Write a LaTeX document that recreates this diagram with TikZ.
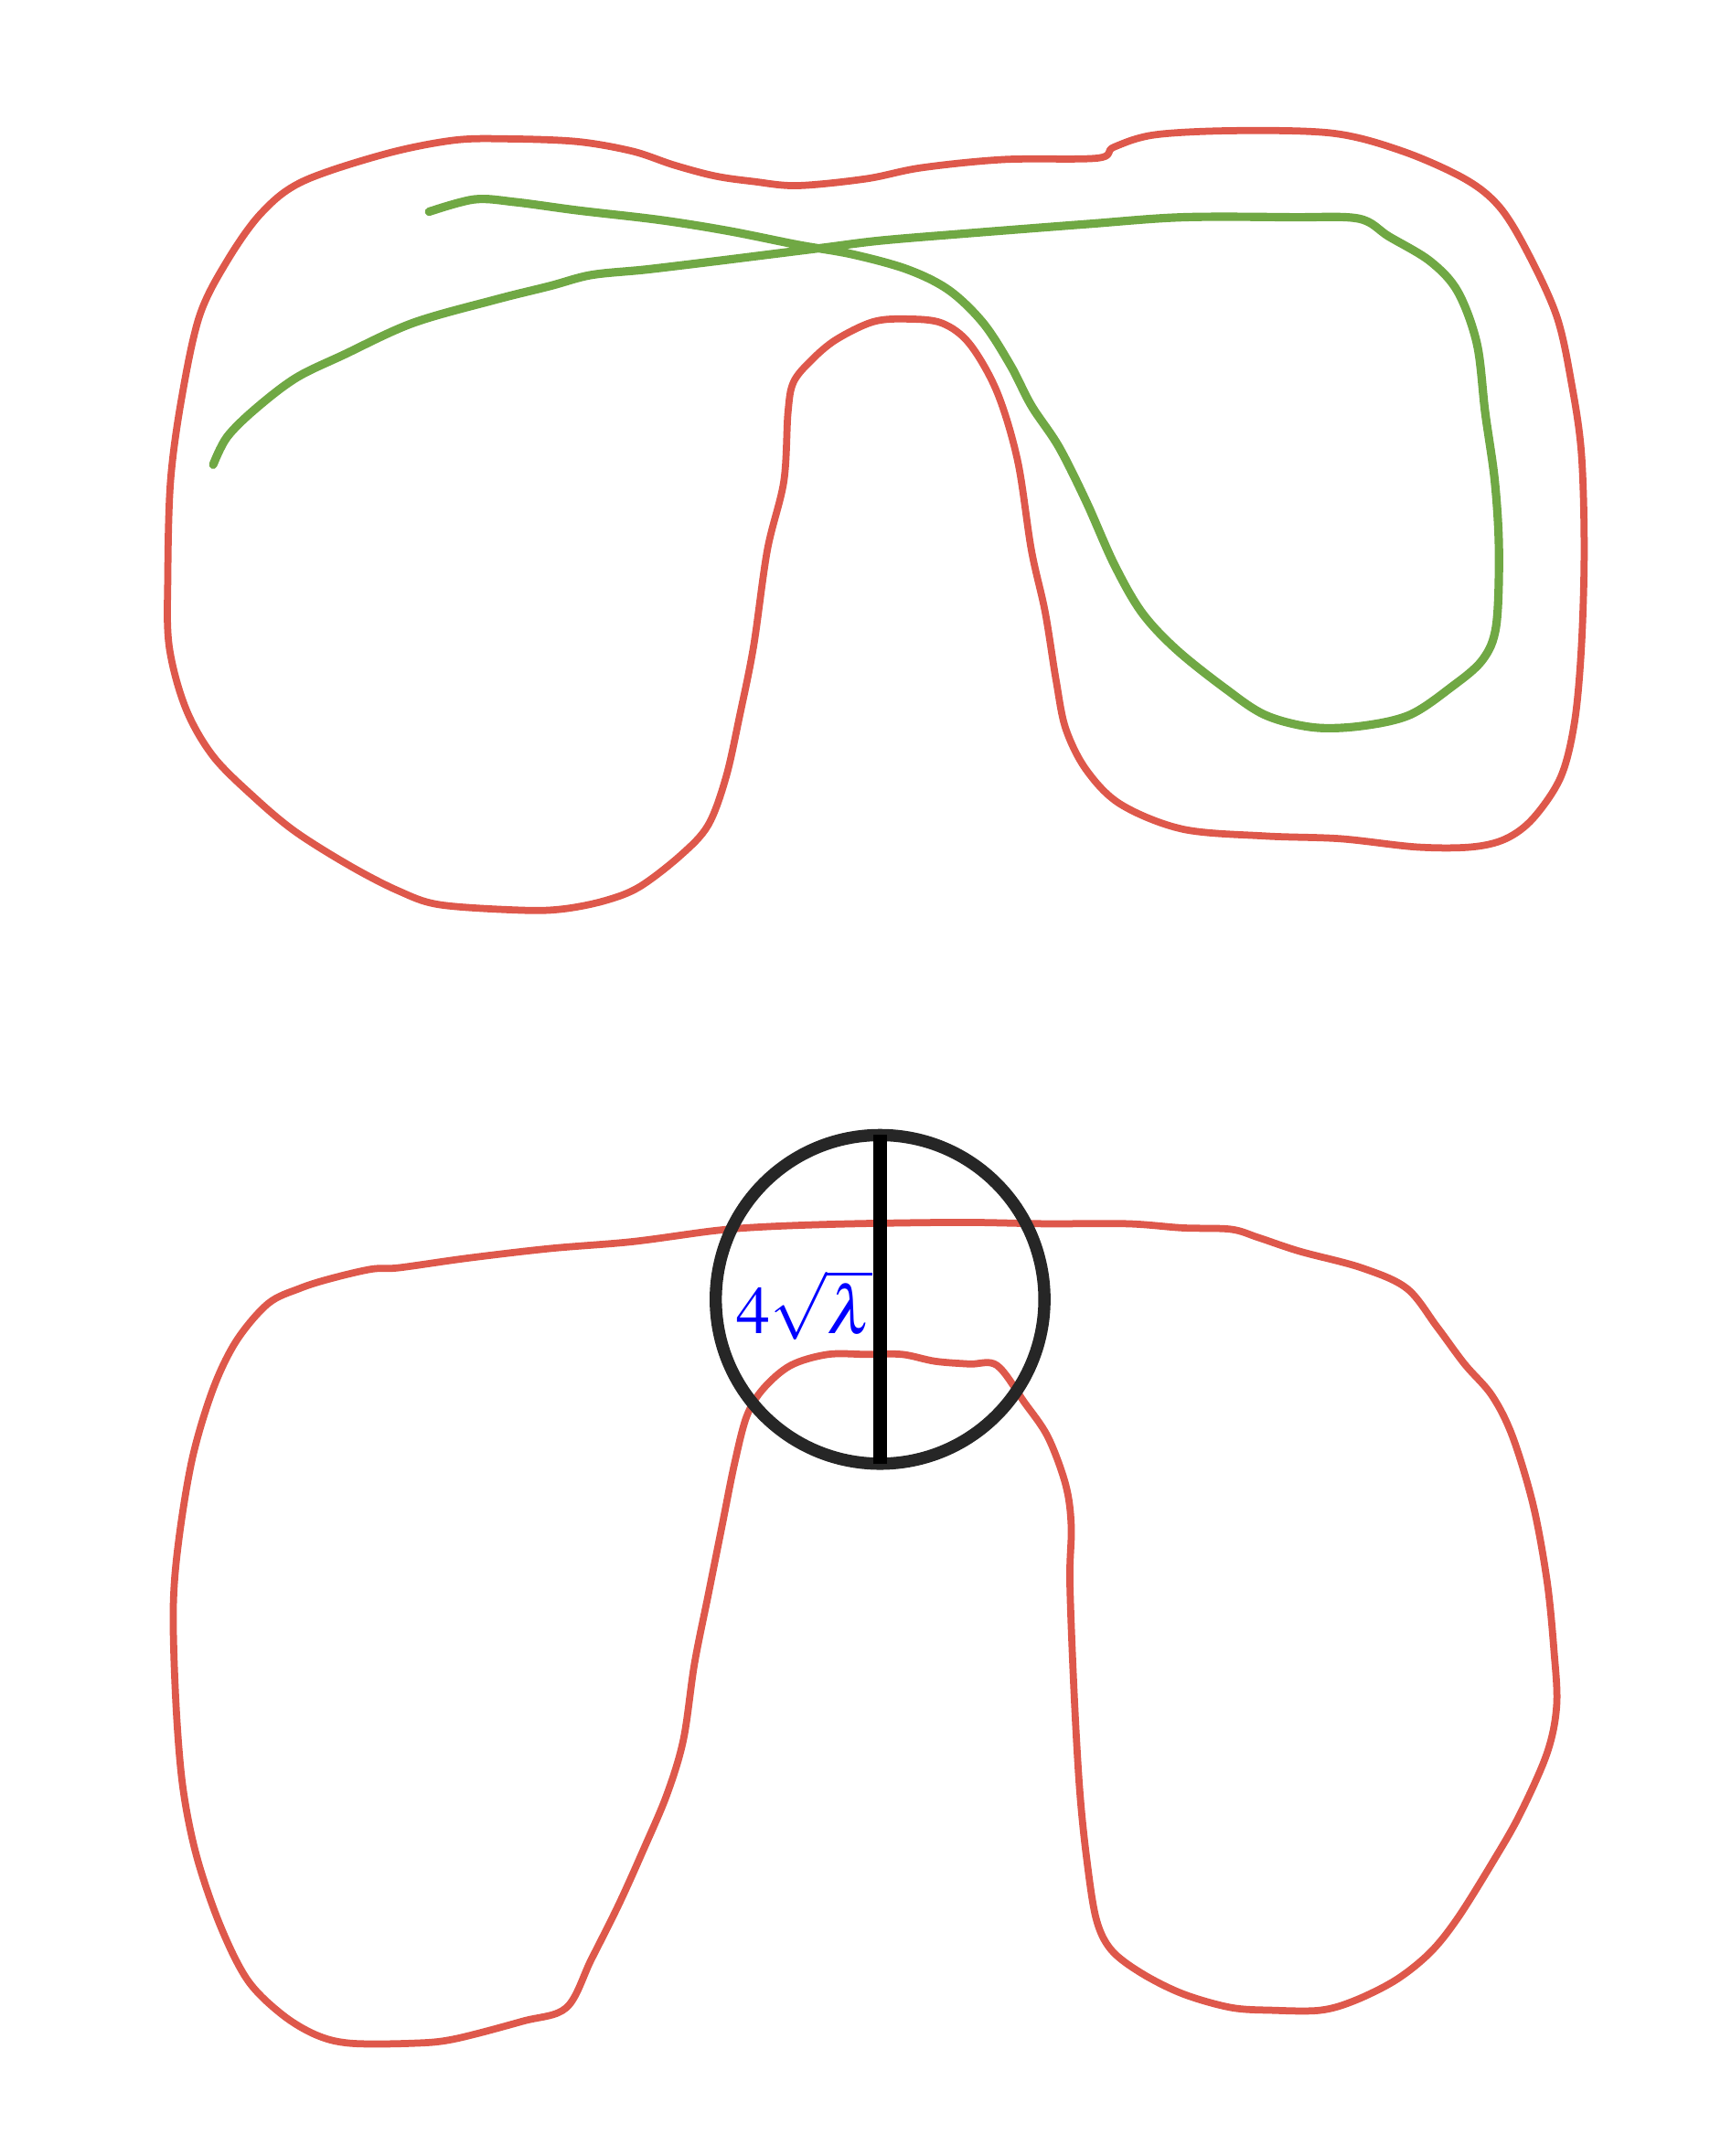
\documentclass[tikz,border=0pt]{standalone}
\usepackage{mathptmx}
\usepackage{xcolor}
\usepackage{tikz}
\usetikzlibrary{positioning}

\definecolor{penred}{RGB}{222,88,75}
\definecolor{pengreen}{RGB}{112,168,68}
\definecolor{inkgray}{RGB}{38,38,38}

\begin{document}
\begin{tikzpicture}[x=0.015cm, y=-0.015cm,
    outline/.style={draw=penred, line width=2.2pt, line join=round},
    trail/.style={draw=pengreen, line width=2.6pt, line cap=round, line join=round},
    ring/.style={circle, draw=inkgray, line width=3.8pt, minimum size=3.585cm, inner sep=0pt, outer sep=0pt},
    diameter/.style={draw=black, line width=4pt},
    radius label/.style={text=blue, font=\fontsize{21}{25}\selectfont, inner sep=0pt}]

        \useasboundingbox (0,0) rectangle (1243,1568);

        % upper region
        \draw[outline] plot[smooth cycle, tension=0.55] coordinates {
            (580,135) (548,132) (520,128) (490,120) (460,110) (420,103) (370,101) (330,102)
            (280,112) (220,132) (190,155) (165,190) (145,230) (132,290) (124,350) (122,420)
            (123,470) (135,515) (155,550) (185,580) (215,605) (255,630) (290,648) (320,658)
            (380,662) (410,661) (440,655) (465,645) (495,622) (515,600) (528,565) (538,520)
            (548,470) (558,400) (570,350) (573,300) (577,278) (590,262) (608,247) (635,234)
            (660,232) (685,235) (705,250) (725,285) (740,335) (750,400) (760,445) (768,495)
            (775,530) (790,560) (815,585) (860,603) (920,608) (975,610) (1030,616) (1070,616)
            (1095,610) (1115,595) (1135,565) (1145,525) (1150,470) (1152,400) (1150,330)
            (1143,280) (1132,230) (1110,182) (1090,150) (1065,130) (1020,110) (970,97)
            (900,95) (840,98) (810,107) (798,115) (730,116) (670,122) (630,130)};

        % path inside the upper region
        \draw[trail] plot[smooth, tension=0.55] coordinates {
            (312,154) (345,145) (375,147) (420,153) (480,160) (530,168) (580,178) (620,185)
            (660,196) (690,211) (715,235) (735,266) (750,295) (770,325) (790,365) (810,410)
            (830,445) (855,472) (890,500) (920,520) (955,529) (990,528) (1025,520) (1055,500)
            (1078,480) (1088,455) (1090,400) (1087,350) (1080,300) (1074,250) (1060,212)
            (1040,190) (1010,172) (988,159) (940,158) (860,158) (790,163) (700,170) (640,175)
            (600,180) (560,185) (520,190) (470,196) (430,200) (400,208) (360,218) (300,235)
            (250,258) (215,275) (185,298) (165,318) (155,338)};

        % lower region
        \draw[outline] plot[smooth cycle, tension=0.55] coordinates {
            (290,922) (340,915) (400,908) (460,903) (520,895) (560,892) (620,890) (700,889)
            (760,890) (820,890) (860,893) (895,894) (915,900) (945,910) (990,922) (1023,937)
            (1045,965) (1065,992) (1085,1015) (1100,1045) (1115,1095) (1125,1150) (1130,1200)
            (1132,1240) (1125,1275) (1105,1320) (1085,1355) (1060,1395) (1040,1420) (1015,1440)
            (985,1455) (960,1462) (925,1462) (895,1460) (860,1450) (830,1435) (808,1418)
            (797,1395) (790,1350) (785,1300) (781,1230) (778,1150) (779,1110) (775,1080)
            (762,1045) (745,1020) (725,993) (705,992) (680,990) (656,985) (630,985) (602,985)
            (575,993) (555,1010) (543,1030) (534,1065) (525,1110) (515,1160) (505,1210)
            (497,1265) (485,1305) (468,1345) (450,1385) (430,1425) (412,1460) (380,1470)
            (330,1483) (300,1486) (255,1486) (230,1480) (205,1465) (180,1440) (160,1400)
            (143,1350) (133,1300) (128,1240) (126,1170) (130,1120) (140,1060) (155,1010)
            (172,975) (195,948) (218,937) (240,930) (270,923)};

        \node[ring] (neck) at (640,945) {};
        \draw[diameter] (neck.north) -- (neck.south);
        \node[radius label] (width) at (585,949) {$4\sqrt{\lambda}$};

\end{tikzpicture}
\end{document}
